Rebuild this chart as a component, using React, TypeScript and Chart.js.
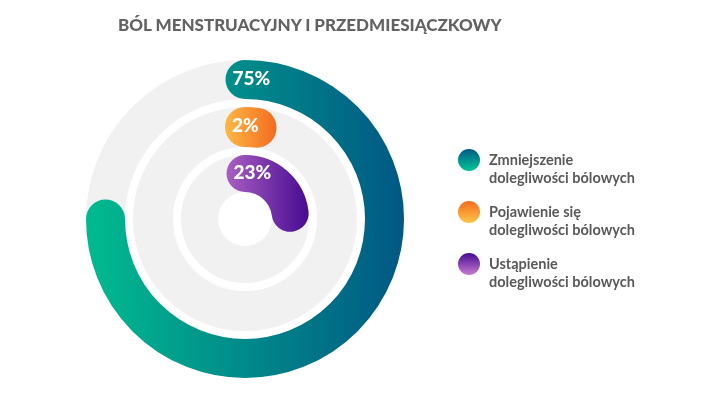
import React, { useEffect, useRef } from "react";
import { Chart, registerables } from "chart.js";

Chart.register(...registerables);

const TITLE = "BÓL MENSTRUACYJNY I PRZEDMIESIĄCZKOWY";
const categories = [
  "Zmniejszenie dolegliwości bólowych",
  "Pojawienie się dolegliwości bólowych",
  "Ustąpienie dolegliwości bólowych",
];
const legendLines = [
  ["Zmniejszenie", "dolegliwości bólowych"],
  ["Pojawienie się", "dolegliwości bólowych"],
  ["Ustąpienie", "dolegliwości bólowych"],
];
const values = [75, 2, 23];
const valueLabels = ["75%", "2%", "23%"];
const TOTAL = 100;
const ringGradients = [
  ["#00bb8f", "#005884"],
  ["#fdb847", "#f36b1f"],
  ["#a95fc2", "#470b92"],
];
const legendGradients = [
  ["#005884", "#00c896"],
  ["#f36b1f", "#fec647"],
  ["#470b92", "#c97bd0"],
];
const TRACK = "#f1f1f1";
const RING_WEIGHTS = [39, 40, 37];
const GAP_WEIGHT = 8;
const VALUE_DATASETS = [0, 2, 4];

const radialPlugin = {
  id: "radialBars",
  beforeDatasetsDraw(chart: any) {
    const ctx = chart.ctx;
    VALUE_DATASETS.forEach((di) => {
      const arc = chart.getDatasetMeta(di).data[0];
      if (!arc) return;
      const { x, y, innerRadius, outerRadius } = arc;
      const mid = (innerRadius + outerRadius) / 2;
      ctx.save();
      ctx.beginPath();
      ctx.arc(x, y, mid, 0, Math.PI * 2);
      ctx.lineWidth = outerRadius - innerRadius;
      ctx.strokeStyle = TRACK;
      ctx.stroke();
      ctx.restore();
    });
  },
  afterDatasetsDraw(chart: any) {
    const ctx = chart.ctx;
    VALUE_DATASETS.forEach((di, i) => {
      const arc = chart.getDatasetMeta(di).data[0];
      if (!arc) return;
      const { x, y, innerRadius, outerRadius, startAngle, endAngle } = arc;
      const mid = (innerRadius + outerRadius) / 2;
      const w = outerRadius - innerRadius;
      let minX = Infinity;
      let maxX = -Infinity;
      const steps = 60;
      for (let s = 0; s <= steps; s++) {
        const a = startAngle + ((endAngle - startAngle) * s) / steps;
        const px = x + mid * Math.cos(a);
        minX = Math.min(minX, px - w / 2);
        maxX = Math.max(maxX, px + w / 2);
      }
      const g = ctx.createLinearGradient(minX, 0, maxX, 0);
      g.addColorStop(0, ringGradients[i][0]);
      g.addColorStop(1, ringGradients[i][1]);
      ctx.save();
      ctx.beginPath();
      ctx.arc(x, y, mid, startAngle, endAngle);
      ctx.lineWidth = w;
      ctx.lineCap = "round";
      ctx.strokeStyle = g;
      ctx.stroke();
      // label at start cap
      const cx = x + mid * Math.cos(startAngle);
      const cy = y + mid * Math.sin(startAngle);
      ctx.fillStyle = "#ffffff";
      ctx.font = "900 19px Lato";
      ctx.textAlign = "left";
      ctx.textBaseline = "middle";
      ctx.fillText(valueLabels[i], cx - w / 2 + 7, cy - 1);
      ctx.restore();
    });
  },
};

export default function App() {
  const canvasRef = useRef<HTMLCanvasElement | null>(null);

  useEffect(() => {
    const canvas = canvasRef.current;
    if (!canvas) return;
    const datasets: any[] = [];
    values.forEach((v, i) => {
      if (i > 0) {
        datasets.push({
          label: "gap" + i,
          data: [TOTAL],
          backgroundColor: ["transparent"],
          borderWidth: 0,
          weight: GAP_WEIGHT,
        });
      }
      datasets.push({
        label: categories[i],
        data: [v, TOTAL - v],
        backgroundColor: ["transparent", "transparent"],
        borderWidth: 0,
        weight: RING_WEIGHTS[i],
      });
    });
    const chart = new Chart(canvas, {
      type: "doughnut",
      data: { labels: ["value", "rest"], datasets },
      options: {
        responsive: true,
        maintainAspectRatio: false,
        animation: false,
        events: [],
        cutout: 27,
        rotation: 0,
        layout: { padding: { left: 86, right: 316, top: 60, bottom: 19 } },
        plugins: {
          legend: { display: false },
          tooltip: { enabled: false },
          title: { display: false },
        },
      } as any,
      plugins: [radialPlugin],
    });
    return () => chart.destroy();
  }, []);

  return (
    <div
      style={{
        position: "fixed",
        left: 0,
        top: 0,
        width: 720,
        height: 397,
        background: "#ffffff",
        overflow: "hidden",
      }}
    >
      <div style={{ position: "absolute", left: 0, top: 0, width: 720, height: 397 }}>
        <canvas ref={canvasRef} />
      </div>
      <div
        style={{
          position: "absolute",
          left: 118,
          top: 14,
          fontFamily: "Lato, sans-serif",
          fontWeight: 900,
          fontSize: 17,
          color: "#636363",
          whiteSpace: "nowrap",
          lineHeight: "22px",
        }}
      >
        {TITLE}
      </div>
      {legendLines.map((lines, i) => (
        <div key={i}>
          <div
            style={{
              position: "absolute",
              left: 458,
              top: 149 + i * 52,
              width: 22,
              height: 22,
              borderRadius: "50%",
              background: `linear-gradient(to bottom, ${legendGradients[i][0]}, ${legendGradients[i][1]})`,
            }}
          />
          <div
            style={{
              position: "absolute",
              left: 489,
              top: 151 + i * 52,
              fontFamily: "Lato, sans-serif",
              fontWeight: 700,
              fontSize: 14.5,
              lineHeight: "18px",
              color: "#595959",
              whiteSpace: "nowrap",
            }}
          >
            {lines[0]}
            <br />
            {lines[1]}
          </div>
        </div>
      ))}
    </div>
  );
}
